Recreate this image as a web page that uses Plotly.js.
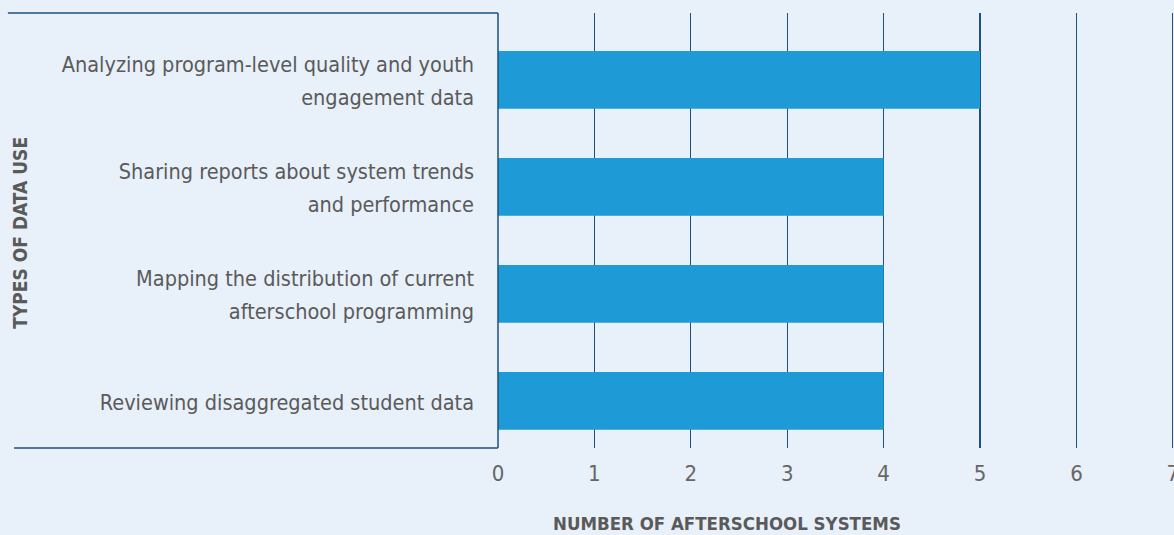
<!DOCTYPE html>
<html><head><meta charset="utf-8">
<script src="https://cdn.plot.ly/plotly-3.0.1.min.js"></script>
<style>html,body{margin:0;padding:0;background:#e8f0f9;}</style>
</head><body><div id="chart" style="width:1174px;height:535px;"></div>
<script>
const categories = [
  "Reviewing disaggregated student data",
  "Mapping the distribution of current<br>afterschool programming",
  "Sharing reports about system trends<br>and performance",
  "Analyzing program-level quality and youth<br>engagement data"
];
const values = [4, 4, 4, 5];
const xTicks = [0, 1, 2, 3, 4, 5, 6, 7];
const xTitle = "NUMBER OF AFTERSCHOOL SYSTEMS";
const yTitle = "TYPES OF DATA USE";

const FONT = "'Liberation Sans Narrow', 'DejaVu Sans Condensed', 'Arial Narrow', sans-serif";
const frameColor = "#1d4f82";

const trace = {
  type: "bar", orientation: "h",
  x: values, y: categories,
  marker: {color: "#1e9ad6"},
  width: 0.54,
  hoverinfo: "skip"
};

const layout = {
  width: 1174, height: 535,
  paper_bgcolor: "#e8f0f9", plot_bgcolor: "#e8f0f9",
  margin: {l: 498, r: 0, t: 13, b: 87},
  font: {family: FONT, color: "#5a5a5a", size: 21.5},
  showlegend: false,
  xaxis: {
    range: [0, 7.012], tickvals: xTicks, ticktext: xTicks.map(String),
    showgrid: true, gridcolor: frameColor, gridwidth: 1.3,
    zeroline: false, showline: false, ticks: "", ticklabelstandoff: 10,
    ticklabeloverflow: "allow",
    tickfont: {size: 22, color: "#666666"}, fixedrange: true
  },
  yaxis: {
    type: "category", categoryarray: categories, categoryorder: "array",
    tickvals: categories,
    ticktext: categories.map(c => c.split("<br>").map(s => '<span style="font-size:21.5px">' + s + '</span>').join("<br>")),
    range: [-0.44, 3.626], showgrid: false, zeroline: false, showline: false,
    ticks: "", ticklabelstandoff: 23,
    tickfont: {size: 25, color: "#5a5a5a"}, fixedrange: true
  },
  shapes: [
    {type: "line", xref: "paper", yref: "paper", x0: -0.725, x1: 0, y0: 1, y1: 1, line: {color: frameColor, width: 1.5}},
    {type: "line", xref: "paper", yref: "paper", x0: 0, x1: 0, y0: 0, y1: 1, line: {color: frameColor, width: 1.5}},
    {type: "line", xref: "paper", yref: "paper", x0: -0.716, x1: 0, y0: 0, y1: 0, line: {color: frameColor, width: 1.5}}
  ],
  annotations: [
    {text: "<b>" + xTitle + "</b>", xref: "paper", yref: "paper", x: 0.339, y: 0, yshift: -88,
     xanchor: "center", yanchor: "bottom", showarrow: false, font: {size: 18.5, color: "#5a5a5a"}},
    {text: "<b>" + yTitle + "</b>", xref: "paper", yref: "paper", x: -0.707, y: 0.495,
     textangle: -90, xanchor: "center", yanchor: "middle", showarrow: false, font: {size: 19, color: "#5a5a5a"}}
  ]
};

Plotly.newPlot("chart", [trace], layout, {displayModeBar: false, staticPlot: true});
</script></body></html>
